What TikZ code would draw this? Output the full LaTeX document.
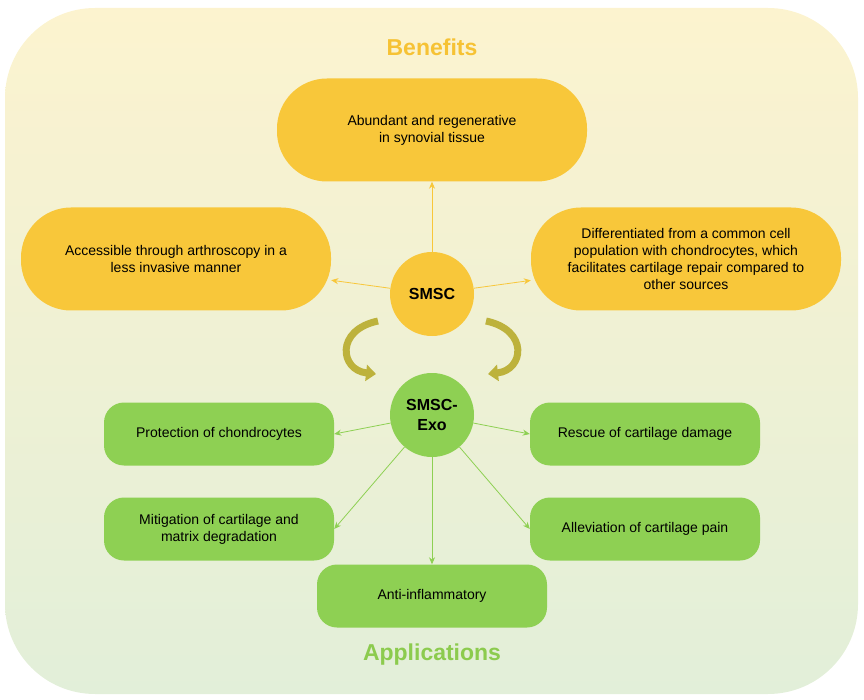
\documentclass[tikz,border=0pt]{standalone}
\usepackage{fontspec}
\setmainfont{Liberation Sans}
\usetikzlibrary{positioning}
\usetikzlibrary{arrows.meta}
\definecolor{gold}{HTML}{F8C73A}
\definecolor{leaf}{HTML}{8ED053}
\definecolor{goldtxt}{HTML}{F6C234}
\definecolor{leaftxt}{HTML}{8CCB4E}
\definecolor{bgtop}{HTML}{FCF3CF}
\definecolor{bgbot}{HTML}{E2EFD9}
\definecolor{swirlc}{HTML}{BDB23C}
\begin{document}
\begin{tikzpicture}
[
x=1pt, y=-1pt,
box-b/.style={rounded corners=50pt,fill=gold,minimum width=310pt,minimum height=103pt,align=center,font=\fontsize{14}{17}\selectfont},
box-a/.style={rounded corners=20pt,fill=leaf,minimum width=230pt,minimum height=63pt,align=center,font=\fontsize{14}{17}\selectfont},
hub/.style={circle,minimum size=84pt,inner sep=1pt,align=center,font=\bfseries\fontsize{16}{20}\selectfont},
link-b/.style={draw=gold,line width=0.8pt,-{Stealth[length=7pt,width=6pt]}},
link-a/.style={draw=leaf,line width=0.8pt,-{Stealth[length=7pt,width=6pt]}},
swirl/.style={line width=7pt,draw=swirlc,-{Triangle[length=10pt,width=16pt]}},
]
\useasboundingbox (0,0) rectangle (864,700);
\shade[top color=bgtop, bottom color=bgbot, rounded corners=90pt]
  (5,8) rectangle (858,694);
\node (t1) [font=\bfseries\fontsize{23}{25}\selectfont, text=goldtxt] at (432,47) {Benefits};
\node (t2) [font=\bfseries\fontsize{23}{25}\selectfont, text=leaftxt] at (432,655) {Applications};
\node (s)  [hub, fill=gold] at (432,294) {SMSC};
\node (e)  [hub, fill=leaf] at (432,415) {SMSC-\\Exo};
\node (b1) [box-b] at (432,130) {Abundant and regenerative\\in synovial tissue};
\node (b2) [box-b] at (176,259) {Accessible through arthroscopy in a\\less invasive manner};
\node (b3) [box-b] at (686,259) {Differentiated from a common cell\\population with chondrocytes, which\\facilitates cartilage repair compared to\\other sources};
\node (a1) [box-a] at (219,434) {Protection of chondrocytes};
\node (a2) [box-a] at (645,434) {Rescue of cartilage damage};
\node (a3) [box-a] at (219,529) {Mitigation of cartilage and\\matrix degradation};
\node (a4) [box-a] at (645,529) {Alleviation of cartilage pain};
\node (a5) [box-a] at (432,596) {Anti-inflammatory};
\draw [link-b] (s) -- (b1);
\draw [link-b] (s) -- (b2);
\draw [link-b] (s) -- (b3);
\draw [link-a] (e) -- (a1.east);
\draw [link-a] (e) -- (a2.west);
\draw [link-a] (e) -- (a3.east);
\draw [link-a] (e) -- (a4.west);
\draw [link-a] (e) -- (a5);
\coordinate (l1) at (378,321);
\coordinate (l2) at (376,374);
\coordinate (r1) at (486,321);
\coordinate (r2) at (488,374);
\draw [swirl] (l1) .. controls (335,330) and (340,370) .. (l2);
\draw [swirl] (r1) .. controls (529,330) and (524,370) .. (r2);
\end{tikzpicture}
\end{document}
